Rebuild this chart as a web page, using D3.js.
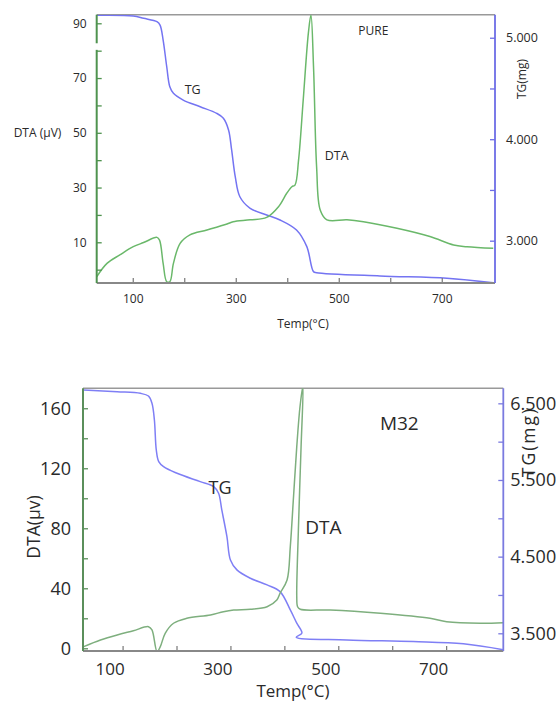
<!DOCTYPE html>
<html><head><meta charset="utf-8">
<script src="https://cdn.jsdelivr.net/npm/d3@7"></script>
<style>body{margin:0;background:#fff}text{font-family:"Open Sans",sans-serif;fill:#2a2a2a}</style>
</head><body><svg id="c" width="560" height="701"></svg>
<script>
// ---------- PURE (top chart) ----------
const pureTgTemp = [30,101,121,147,153,159,166,172,179,198,231,263,276,286,292,299,308,328,360,386,418,438,451,457,580,710,800];
const pureTg     = [5.221,5.214,5.191,5.158,5.125,4.977,4.714,4.517,4.452,4.386,4.320,4.255,4.206,4.091,3.894,3.631,3.433,3.319,3.253,3.204,3.105,2.941,2.695,2.685,2.652,2.630,2.586];
const pureDtaTemp = [30,50,75,101,121,147,152,159,166,172,179,192,211,244,283,295,328,360,383,399,409,415,422,431,441,446,451,457,464,477,516,548,613,677,723,749,800];
const pureDta     = [-2.6,2.3,5.4,8.4,9.9,11.8,10.8,2.3,-4.4,-4.4,2.3,9.6,12.7,14.5,16.7,17.5,18.2,19.1,23.0,27.9,30.3,30.9,40.1,62.0,86.4,93.0,74.2,37.6,21.8,18.2,18.2,17.5,15.1,12.1,9.0,8.4,7.8];
const pureXTicks = [100,200,300,400,500,600,700];
const pureXLabels = [100,300,500,700];
const pureDtaTicks = [0,10,20,30,40,50,60,70,80,90];
const pureDtaLabels = [10,30,50,70,90];
const pureTgTicks = [3.0,3.5,4.0,4.5,5.0];
const pureTgLabels = [3.0,4.0,5.0];

// ---------- M32 (bottom chart) ----------
const m32TgTemp = [28,90,133,148,154.5,159,162.5,167,176,201,244,269,278,284,293.5,300,312,337,368,392,411,423,432.5,422,516,639,732,806];
const m32Tg     = [6.673,6.651,6.630,6.595,6.500,6.282,5.891,5.739,5.673,5.587,5.478,5.413,5.327,5.109,4.761,4.457,4.327,4.218,4.131,4.044,3.805,3.632,3.502,3.449,3.414,3.392,3.362,3.284];
const m32DtaTemp = [28,59,90,120,148,154.5,164,170,179,194.5,219,263,287,306,337,368,386,392,405,411,417,423,429,434.5,431,426,423,424.5,429.5,485,578,670,701,763,806];
const m32Dta     = [1.1,5.5,8.9,11.7,14.4,12.2,-2.3,1.1,10,16.7,20,22.2,24.4,25.5,26,27.7,32.2,36.7,45.5,67.7,101,134.4,161,175,134.4,78.9,34.4,27.7,26,25.5,23.3,20,17.7,16.7,17.1];
const m32XTicks = [100,200,300,400,500,600,700];
const m32XLabels = [100,300,500,700];
const m32DtaTicks = [0,20,40,60,80,100,120,140,160];
const m32DtaLabels = [0,40,80,120,160];
const m32TgTicks = [3.5,4.0,4.5,5.0,5.5,6.0,6.5];
const m32TgLabels = [3.5,4.5,5.5,6.5];

const svg = d3.select("#c");
let clipId = 0;

function chart(o){
  const g = svg.append("g");
  const x = d3.scaleLinear().domain(o.xDom).range([o.l,o.r]);
  const yL = d3.scaleLinear().domain(o.yLDom).range([o.b,o.t]);
  const yR = d3.scaleLinear().domain(o.yRDom).range([o.b,o.t]);
  const id = "clip"+(clipId++);
  g.append("clipPath").attr("id",id).append("rect")
    .attr("x",o.l).attr("y",o.t).attr("width",o.r-o.l).attr("height",o.b-o.t);

  // frame top
  g.append("line").attr("x1",o.l).attr("x2",o.r).attr("y1",o.t).attr("y2",o.t)
    .attr("stroke","#999").attr("stroke-width",1.6);

  // curves
  const pl = g.append("g").attr("clip-path",`url(#${id})`);
  const line = (xs,ys,ysc)=> d3.line().curve(d3.curveCatmullRom.alpha(0.5))
     .x((d,i)=>x(xs[i])).y((d,i)=>ysc(ys[i]))(xs);
  pl.append("path").attr("d",line(o.tgT,o.tg,yR)).attr("fill","none")
    .attr("stroke",o.tgColor).attr("stroke-width",1.5);
  pl.append("path").attr("d",line(o.dtaT,o.dta,yL)).attr("fill","none")
    .attr("stroke",o.dtaColor).attr("stroke-width",1.5);

  // bottom axis
  const ax = g.append("g").attr("transform",`translate(0,${o.b})`)
    .call(d3.axisBottom(x).tickValues(o.xTicks).tickSize(-5).tickSizeOuter(0).tickPadding(o.xPad)
      .tickFormat(d=>o.xLabels.includes(d)?d:""));
  ax.select(".domain").remove();
  ax.selectAll(".tick line").attr("stroke","#777").attr("stroke-width",1.2);
  ax.selectAll("text").attr("font-size",o.fsX).attr("dx",o.xLabelDx).attr("fill","#2a2a2a");
  g.append("line").attr("x1",o.l).attr("x2",o.r).attr("y1",o.b).attr("y2",o.b)
    .attr("stroke","#888").attr("stroke-width",1.8);

  // left axis
  const al = g.append("g").attr("transform",`translate(${o.l},0)`)
    .call(d3.axisLeft(yL).tickValues(o.yLTicks).tickSize(-5).tickSizeOuter(0).tickPadding(o.yLPad)
      .tickFormat(d=>o.yLLabels.includes(d)?d:""));
  al.select(".domain").remove();
  al.selectAll(".tick line").attr("stroke",o.lAxisColor).attr("stroke-width",1.3);
  al.selectAll("text").attr("font-size",o.fs).attr("fill","#2a2a2a");
  const segs = o.brk ? [[o.yLDom[1],o.brk[0]],[o.brk[1],o.yLDom[0]]] : [[o.yLDom[1],o.yLDom[0]]];
  segs.forEach(s=>g.append("line").attr("x1",o.l).attr("x2",o.l).attr("y1",yL(s[0])).attr("y2",yL(s[1]))
    .attr("stroke",o.lAxisColor).attr("stroke-width",2));

  // right axis
  const ar = g.append("g").attr("transform",`translate(${o.r},0)`)
    .call(d3.axisRight(yR).tickValues(o.yRTicks).tickSize(-5).tickSizeOuter(0).tickPadding(o.yRPad)
      .tickFormat(d=>o.yRLabels.includes(d)?d3.format(".3f")(d):""));
  ar.select(".domain").remove();
  ar.selectAll(".tick line").attr("stroke",o.rAxisColor).attr("stroke-width",1.3);
  ar.selectAll("text").attr("font-size",o.fsR).attr("fill","#2a2a2a");
  g.append("line").attr("x1",o.r).attr("x2",o.r).attr("y1",o.t).attr("y2",o.b)
    .attr("stroke",o.rAxisColor).attr("stroke-width",1.8);

  // texts
  o.texts.forEach(t=>{
    const e = g.append("text").attr("text-anchor",t.anchor||"middle").attr("font-size",t.fs)
      .attr("dominant-baseline","central").text(t.s);
    if(t.ls) e.attr("letter-spacing",t.ls);
    if(t.rot) e.attr("transform",`translate(${t.x},${t.y}) rotate(-90)`);
    else e.attr("x",t.x).attr("y",t.y);
  });
}

chart({
  l:96.7,t:14.7,r:495,b:283,
  xDom:[30,803.4], yLDom:[-4.87,93.14], yRDom:[2.583,5.227],
  tgT:pureTgTemp, tg:pureTg, dtaT:pureDtaTemp, dta:pureDta,
  tgColor:"#7474f2", dtaColor:"#6ab86a",
  lAxisColor:"#4f934f", rAxisColor:"#6d6de6",
  xTicks:pureXTicks, xLabels:pureXLabels, xPad:11, xLabelDx:0,
  yLTicks:pureDtaTicks, yLLabels:pureDtaLabels, yLPad:10,
  yRTicks:pureTgTicks, yRLabels:pureTgLabels, yRPad:11,
  brk:[82.7,80.3],
  fs:12, fsX:12, fsR:12.5,
  texts:[
    {s:"Temp(°C)", x:303, y:323, fs:12},
    {s:"DTA (µV)", x:37.5, y:132, fs:12},
    {s:"TG(mg)", x:521, y:79, fs:12, rot:true},
    {s:"TG", x:192.7, y:89.3, fs:12.5},
    {s:"DTA", x:336.7, y:155, fs:12.5},
    {s:"PURE", x:373.3, y:30.7, fs:12}
  ]
});

chart({
  l:83,t:388.3,r:503.3,b:651,
  xDom:[26.6,806], yLDom:[-1.8,173.3], yRDom:[3.269,6.696],
  tgT:m32TgTemp, tg:m32Tg, dtaT:m32DtaTemp, dta:m32Dta,
  tgColor:"#7f7ff5", dtaColor:"#7eaf7e",
  lAxisColor:"#5b8f5b", rAxisColor:"#7a7ae0",
  xTicks:m32XTicks, xLabels:m32XLabels, xPad:12, xLabelDx:-13,
  yLTicks:m32DtaTicks, yLLabels:m32DtaLabels, yLPad:12,
  yRTicks:m32TgTicks, yRLabels:m32TgLabels, yRPad:7,
  brk:null,
  fs:18, fsX:17, fsR:18,
  texts:[
    {s:"Temp(°C)", x:293, y:690, fs:17},
    {s:"DTA(µv)", x:33, y:527, fs:17.5, rot:true},
    {s:"TG(mg)", x:528, y:442, fs:17.5, rot:true, ls:2},
    {s:"TG", x:220, y:486.7, fs:18},
    {s:"DTA", x:323.3, y:526.7, fs:19},
    {s:"M32", x:399.3, y:422.7, fs:19}
  ]
});
</script></body></html>
